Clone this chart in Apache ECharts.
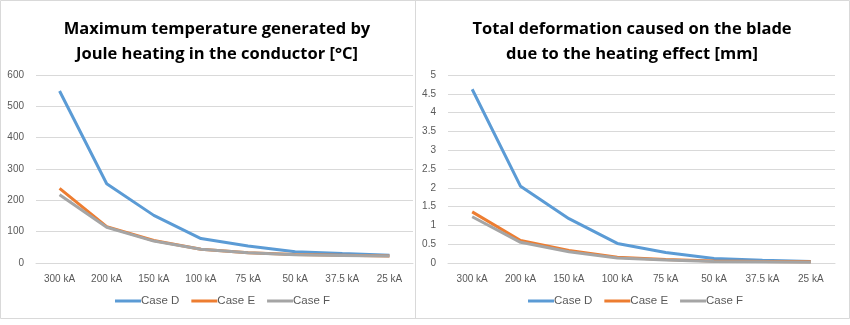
<!DOCTYPE html>
<html>
<head>
<meta charset="utf-8">
<script src="https://cdn.jsdelivr.net/npm/echarts@6/dist/echarts.min.js"></script>
<style>
  html, body { margin: 0; padding: 0; background: #ffffff; }
  #chart { width: 850px; height: 325px; }
</style>
</head>
<body>
<div id="chart"></div>
<script>
// Current levels on the x axis
const categories = ['300 kA', '200 kA', '150 kA', '100 kA', '75 kA', '50 kA', '37.5 kA', '25 kA'];
const seriesNames = ['Case D', 'Case E', 'Case F'];

// Maximum temperature from Joule heating [°C]
const tempCaseD = [549, 253, 152, 78, 54, 36, 30, 25];
const tempCaseE = [238, 116, 72, 44, 33, 27, 25, 22];
const tempCaseF = [218, 114, 70, 44, 33, 26, 24, 22];

// Total blade deformation [mm]
const defCaseD = [4.62, 2.04, 1.18, 0.52, 0.28, 0.12, 0.07, 0.04];
const defCaseE = [1.36, 0.60, 0.33, 0.15, 0.09, 0.05, 0.04, 0.03];
const defCaseF = [1.23, 0.55, 0.30, 0.13, 0.08, 0.04, 0.03, 0.02];

const tempTicks = { min: 0, max: 600, interval: 100 };
const defTicks = { min: 0, max: 5, interval: 0.5 };

const colors = ['#5B9BD5', '#ED7D31', '#A5A5A5'];
const font = '"Liberation Sans Narrow", "Liberation Sans", sans-serif';
const titleFont = '"Open Sans", "Noto Sans", sans-serif';

const chart = echarts.init(document.getElementById('chart'), null, { renderer: 'canvas' });

// Later series are painted over earlier ones
function lineSeries(name, data, idx) {
  return {
    name: name,
    type: 'line',
    xAxisIndex: idx,
    yAxisIndex: idx,
    data: data,
    symbol: 'none',
    smooth: false,
    lineStyle: { width: 3 },
    z: 2 + seriesNames.indexOf(name)
  };
}

const xAxisBase = {
  type: 'category',
  data: categories,
  boundaryGap: true,
  axisLine: { lineStyle: { color: '#d9d9d9' } },
  axisTick: { show: false },
  axisLabel: { interval: 0, color: '#595959', fontFamily: font, fontSize: 10, margin: 11 }
};
const yAxisBase = {
  type: 'value',
  axisLine: { show: false },
  axisTick: { show: false },
  splitLine: { lineStyle: { color: '#d9d9d9', width: 1 } },
  axisLabel: { color: '#595959', fontFamily: font, fontSize: 10, margin: 12 }
};
const legendBase = {
  data: seriesNames,
  icon: 'rect',
  itemWidth: 26,
  itemHeight: 3,
  itemGap: 12,
  textStyle: { color: '#595959', fontFamily: font, fontSize: 11.5, padding: [0, 0, 0, -5] },
  top: 290
};

chart.setOption({
  color: colors,
  animation: false,
  title: [
    {
      text: 'Maximum temperature generated by\nJoule heating in the conductor [\u00B0C]',
      left: 212, top: 12, textAlign: 'center',
      textStyle: { fontFamily: titleFont, fontWeight: 'bold', fontSize: 16.5, lineHeight: 25, color: '#000000' }
    },
    {
      text: 'Total deformation caused on the blade\ndue to the heating effect [mm]',
      left: 627, top: 12, textAlign: 'center',
      textStyle: { fontFamily: titleFont, fontWeight: 'bold', fontSize: 16.5, lineHeight: 25, color: '#000000' }
    }
  ],
  legend: [
    Object.assign({}, legendBase, { left: 110 }),
    Object.assign({}, legendBase, { left: 523 })
  ],
  grid: [
    { left: 36, top: 75, width: 377, height: 188 },
    { left: 448, top: 75, width: 387, height: 188 }
  ],
  xAxis: [
    Object.assign({}, xAxisBase, { gridIndex: 0 }),
    Object.assign({}, xAxisBase, { gridIndex: 1 })
  ],
  yAxis: [
    Object.assign({}, yAxisBase, tempTicks, { gridIndex: 0 }),
    Object.assign({}, yAxisBase, defTicks, { gridIndex: 1 })
  ],
  graphic: [
    { type: 'rect', shape: { x: 0.5, y: 0.5, width: 849, height: 318 }, style: { fill: 'none', stroke: '#d9d9d9', lineWidth: 1 }, silent: true },
    { type: 'line', shape: { x1: 415.5, y1: 0, x2: 415.5, y2: 319 }, style: { stroke: '#d9d9d9', lineWidth: 1 }, silent: true }
  ],
  series: [
    lineSeries('Case D', tempCaseD, 0),
    lineSeries('Case E', tempCaseE, 0),
    lineSeries('Case F', tempCaseF, 0),
    lineSeries('Case D', defCaseD, 1),
    lineSeries('Case E', defCaseE, 1),
    lineSeries('Case F', defCaseF, 1)
  ]
});
</script>
</body>
</html>
